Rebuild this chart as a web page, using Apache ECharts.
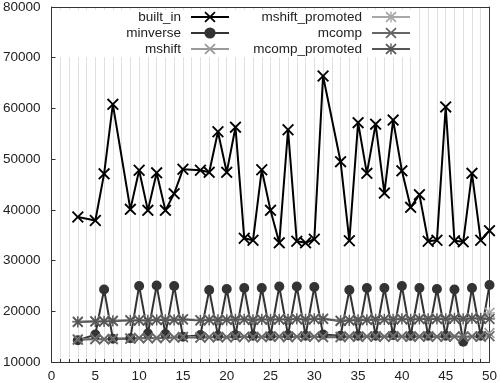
<!DOCTYPE html>
<html>
<head>
<meta charset="utf-8">
<script src="https://cdn.jsdelivr.net/npm/echarts@6/dist/echarts.min.js"></script>
<style>html,body{margin:0;padding:0;background:#fff;}#c{width:500px;height:383px;}</style>
</head>
<body>
<div id="c"></div>
<script>
var xs = [3,5,6,7,9,10,11,12,13,14,15,17,18,19,20,21,22,23,24,25,26,27,28,29,30,31,33,34,35,36,37,38,39,40,41,42,43,44,45,46,47,48,49,50];
var builtIn = [38600,37900,47100,60800,40100,47800,39900,47300,39900,43200,48000,47800,47400,55400,47400,56300,34400,34000,47900,39900,33500,55800,33800,33500,34200,66400,49500,33900,57200,47200,56900,43300,57700,47700,40500,43000,33800,34000,60300,33900,33700,47200,34000,35900];
var minverse = [14300,15400,24300,14600,14700,25000,15600,25100,15500,25000,15000,15300,24200,15200,24400,15300,24600,15200,24600,15200,24900,15300,24900,15200,24800,15400,15200,24200,15200,24600,15200,24600,15300,25000,15200,24600,15200,24400,15200,24300,14000,24600,15200,25200];
var mshift = [14500,14600,14500,14600,14700,14800,14700,14800,14800,14900,15000,14900,14900,15000,14900,15000,15000,14900,15000,15000,15100,15000,15000,15100,15000,15000,15000,15100,15000,15100,15100,15000,15100,15100,15000,15100,15100,15000,15100,15100,15000,15100,15100,15700];
var mshiftPromoted = [18000,18100,18100,18200,18300,18300,18300,18400,18400,18400,18500,18300,18400,18400,18400,18500,18500,18400,18500,18500,18500,18500,18600,18500,18600,18600,18200,18300,18400,18400,18500,18500,18500,18600,18500,18600,18600,18600,18600,18700,18600,18700,18700,19700];
var mcomp = [14400,14500,14500,14500,14600,14700,14700,14700,14800,14800,14900,14800,14900,14900,14900,14900,15000,14900,14900,15000,15000,14900,15000,15000,15000,14900,14900,15000,15000,15000,15000,15000,15000,15000,15000,15000,15000,15000,15000,15000,15000,15000,15000,15100];
var mcompPromoted = [17900,18000,18000,18100,18200,18200,18200,18300,18300,18300,18400,18200,18300,18300,18300,18400,18400,18300,18400,18400,18400,18400,18500,18400,18500,18500,18100,18200,18300,18300,18400,18400,18400,18500,18400,18500,18500,18500,18500,18600,18500,18600,18600,18500];
var seriesNames = ['built_in','minverse','mshift','mshift_promoted','mcomp','mcomp_promoted'];
var legendCol1 = ['built_in','minverse','mshift'];
var legendCol2 = ['mshift_promoted','mcomp','mcomp_promoted'];

var X_PATH = 'path://M0,1.1L1.1,0L5,3.9L8.9,0L10,1.1L6.1,5L10,8.9L8.9,10L5,6.1L1.1,10L0,8.9L3.9,5Z';
var STAR_PATH = 'path://M0,1.1L1.1,0L5,3.9L8.9,0L10,1.1L6.1,5L10,8.9L8.9,10L5,6.1L1.1,10L0,8.9L3.9,5Z M4.4,0L5.6,0L5.6,10L4.4,10Z M0,4.4L10,4.4L10,5.6L0,5.6Z';

function pairs(vals){ return xs.map(function(x,i){ return [x, vals[i]]; }); }

function mk(name, vals, color, symbol, size, width){
  return {
    name: name, type: 'line', data: pairs(vals), xAxisIndex: 0, yAxisIndex: 0,
    symbol: symbol, symbolSize: size, showSymbol: true,
    lineStyle: {color: color, width: width},
    itemStyle: {color: color},
    emphasis: {disabled: true},
    animation: false
  };
}

var FONT = 'Liberation Sans, Arial, sans-serif';
var chart = echarts.init(document.getElementById('c'), null, {renderer: 'canvas'});
var legendBase = {
  orient: 'vertical', align: 'right', padding: 0, itemGap: 2,
  itemWidth: 38, itemHeight: 14, top: 10,
  textStyle: {fontFamily: FONT, fontSize: 13.5, color: '#222', lineHeight: 14, padding: [0, 5, 0, 0]},
  selectedMode: false
};
var frameAxis = {
  min: 0, max: 1, type: 'value',
  axisLine: {show: true, onZero: false, lineStyle: {color: '#333', width: 1}},
  axisTick: {show: false}, axisLabel: {show: false}, splitLine: {show: false}
};
chart.setOption({
  backgroundColor: '#fff',
  animation: false,
  grid: {left: 49, top: 5, width: 444, height: 358, containLabel: false},
  graphic: [{type: 'rect', z: 1, shape: {x: 52, y: 10, width: 359, height: 47}, style: {fill: '#fff'}, silent: true}],
  legend: [
    Object.assign({}, legendBase, {data: legendCol1, right: 270}),
    Object.assign({}, legendBase, {data: legendCol2, right: 89})
  ],
  xAxis: [{
    type: 'value', min: 0, max: 50, interval: 1, position: 'bottom',
    axisLine: {show: true, onZero: false, lineStyle: {color: '#333', width: 1}},
    axisTick: {show: true, inside: true, length: 3, lineStyle: {color: '#333'}},
    axisLabel: {margin: 7, color: '#222', fontSize: 13.5, fontFamily: FONT, showMinLabel: true, hideOverlap: false,
      formatter: function(v){ return v % 5 === 0 ? String(v) : ''; }},
    splitLine: {show: true, lineStyle: {color: '#e0e0e0', width: 1}}
  }, Object.assign({}, frameAxis, {position: 'top'})],
  yAxis: [{
    type: 'value', min: 10000, max: 80000, interval: 10000, position: 'left',
    axisLine: {show: true, onZero: false, lineStyle: {color: '#333', width: 1}},
    axisTick: {show: true, inside: true, length: 4, lineStyle: {color: '#333'}},
    axisLabel: {margin: 11, color: '#222', fontSize: 13.5, fontFamily: FONT,
      formatter: function(v){ return String(v); }},
    splitLine: {show: false}
  }, Object.assign({}, frameAxis, {position: 'right'})],
  series: [
    mk(seriesNames[0], builtIn, '#000000', X_PATH, 12, 2),
    mk(seriesNames[1], minverse, '#333333', 'circle', 10, 2),
    mk(seriesNames[2], mshift, '#9a9a9a', X_PATH, 11, 2),
    mk(seriesNames[3], mshiftPromoted, '#a8a8a8', STAR_PATH, 11, 2),
    mk(seriesNames[4], mcomp, '#666666', X_PATH, 11, 2),
    mk(seriesNames[5], mcompPromoted, '#555555', STAR_PATH, 11, 2)
  ]
});
</script>
</body>
</html>
